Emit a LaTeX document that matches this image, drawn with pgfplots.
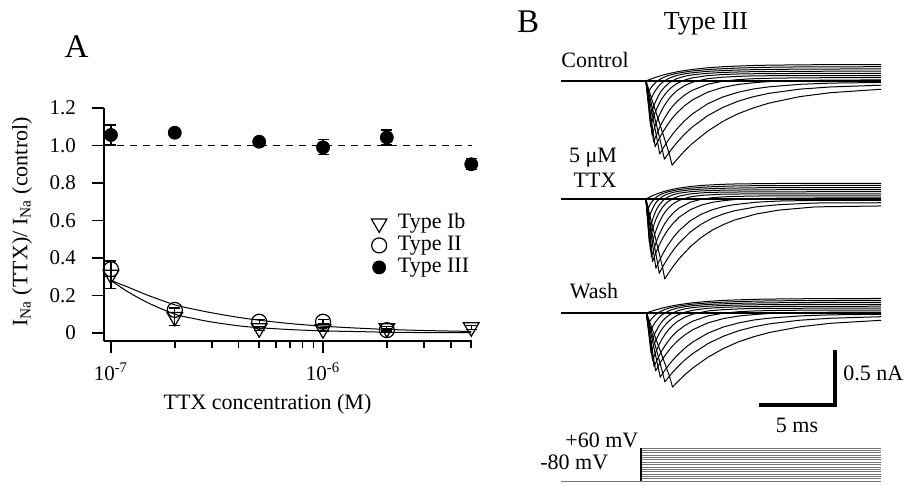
\documentclass[border=0pt]{standalone}
\usepackage{fontspec}
\setmainfont{Liberation Serif}
\usepackage{pgfplots}
\pgfplotsset{compat=1.18}
\usepackage{pgfplotstable}

% ---------- Panel A data ----------
\pgfplotstableread{
x y e
1e-7 1.056 0.053
2e-7 1.068 0.012
5e-7 1.020 0.010
1e-6 0.990 0.040
2e-6 1.043 0.040
5e-6 0.900 0.030
}\typeIII
\pgfplotstableread{
x y e
1e-7 0.340 0.040
2e-7 0.123 0.012
5e-7 0.060 0.010
1e-6 0.060 0.010
2e-6 0.015 0.010
}\typeII
\pgfplotstableread{
x y e
1e-7 0.310 0.075
2e-7 0.085 0.045
5e-7 0.025 0.010
1e-6 0.020 0.010
2e-6 0.025 0.010
5e-6 0.030 0.010
}\typeIb
\pgfplotstableread{
x y
1e-7 0.280
1.2e-7 0.245
1.5e-7 0.200
2e-7 0.150
2.5e-7 0.125
3e-7 0.107
4e-7 0.083
5e-7 0.068
7e-7 0.050
1e-6 0.036
1.5e-6 0.025
2e-6 0.019
3e-6 0.013
5e-6 0.008
}\fitII
\pgfplotstableread{
x y
1e-7 0.280
1.2e-7 0.220
1.5e-7 0.160
2e-7 0.100
2.5e-7 0.075
3e-7 0.058
4e-7 0.038
5e-7 0.028
7e-7 0.018
1e-6 0.011
1.5e-6 0.007
2e-6 0.004
3e-6 0.002
5e-6 0.001
}\fitIb

% ---------- Panel B data: current traces (s = ms after step, nA) ----------
\pgfplotstableread{
s T1 T2 T3 T4 T5 T6 T7 T8 T9 T10 T11
0 0 0 0 0 0 0 0 0 0 0 0
0.1 -0.045 -0.106 -0.106 -0.137 -0.123 -0.111 -0.100 -0.073 -0.058 -0.044 0.006
0.2 -0.090 -0.212 -0.213 -0.275 -0.246 -0.222 -0.200 -0.147 -0.117 -0.087 0.012
0.3 -0.067 -0.174 -0.320 -0.412 -0.369 -0.333 -0.300 -0.220 -0.175 -0.131 0.017
0.4 -0.048 -0.142 -0.273 -0.366 -0.493 -0.444 -0.400 -0.293 -0.233 -0.174 0.022
0.5 -0.031 -0.114 -0.232 -0.323 -0.448 -0.555 -0.500 -0.367 -0.292 -0.218 0.027
0.6 -0.017 -0.090 -0.196 -0.286 -0.406 -0.518 -0.598 -0.440 -0.350 -0.261 0.032
0.8 0.006 -0.051 -0.137 -0.222 -0.334 -0.451 -0.540 -0.587 -0.467 -0.348 0.041
0.9 0.014 -0.035 -0.113 -0.194 -0.303 -0.420 -0.514 -0.663 -0.525 -0.392 0.045
1.0 0.023 -0.022 -0.091 -0.170 -0.273 -0.391 -0.488 -0.638 -0.583 -0.435 0.050
1.2 0.036 0.000 -0.057 -0.128 -0.223 -0.340 -0.441 -0.592 -0.711 -0.522 0.057
1.5 0.052 0.025 -0.018 -0.079 -0.161 -0.273 -0.378 -0.529 -0.651 -0.653 0.068
1.7 0.059 0.036 -0.001 -0.054 -0.129 -0.236 -0.341 -0.490 -0.614 -0.765 0.074
2.0 0.069 0.050 0.021 -0.024 -0.089 -0.189 -0.292 -0.438 -0.562 -0.715 0.083
2.5 0.081 0.065 0.043 0.008 -0.042 -0.129 -0.226 -0.363 -0.485 -0.638 0.095
3 0.091 0.075 0.056 0.028 -0.012 -0.085 -0.174 -0.301 -0.420 -0.570 0.105
4 0.104 0.088 0.070 0.049 0.021 -0.030 -0.102 -0.208 -0.316 -0.457 0.120
5 0.112 0.095 0.078 0.059 0.035 -0.002 -0.058 -0.145 -0.240 -0.367 0.130
6 0.118 0.100 0.082 0.064 0.042 0.013 -0.031 -0.102 -0.183 -0.297 0.136
7 0.122 0.103 0.085 0.066 0.047 0.021 -0.016 -0.072 -0.142 -0.244 0.141
8 0.125 0.105 0.086 0.067 0.048 0.025 -0.005 -0.053 -0.112 -0.201 0.144
10 0.128 0.108 0.088 0.069 0.049 0.029 0.005 -0.030 -0.074 -0.142 0.147
12 0.129 0.109 0.089 0.069 0.050 0.030 0.008 -0.019 -0.054 -0.106 0.149
15.28 0.130 0.110 0.090 0.070 0.050 0.030 0.010 -0.013 -0.038 -0.075 0.150
22 0.130 0.110 0.090 0.070 0.050 0.030 0.010 -0.012 -0.035 -0.065 0.150
}\traces

\begin{document}
\begin{tikzpicture}
\useasboundingbox (0,0) rectangle (454.5pt,242pt);

% ================= Panel A =================
\begin{axis}[
  at={(52pt,71.5pt)}, anchor=south west,
  scale only axis, width=184pt, height=116.5pt,
  xmode=log, xmin=9.27e-8, xmax=5.04e-6,
  ymin=-0.043, ymax=1.2,
  axis x line*=bottom, axis y line*=left,
  axis line style={-, line width=0.8pt},
  tick align=outside, major tick length=6pt, minor tick length=3.5pt,
  tick style={black, line width=0.8pt},
  xtick={1e-7,1e-6},
  xticklabels={10\textsuperscript{-7},10\textsuperscript{-6}},
  minor xtick={2e-7,3e-7,4e-7,5e-7,6e-7,7e-7,8e-7,9e-7,2e-6,3e-6,4e-6,5e-6},
  ytick={0,0.2,0.4,0.6,0.8,1.0,1.2},
  yticklabels={0,0.2,0.4,0.6,0.8,1.0,1.2},
  tick label style={font=\fontsize{10.5}{12}\selectfont},
  yticklabel style={xshift=-4.5pt},
  xticklabel style={yshift=-1.5pt},
  clip=false,
  legend style={at={(0.7255,0.5536)}, anchor=north west, draw=none, fill=none,
    inner sep=0pt, row sep=0pt, column sep=5pt,
    nodes={inner sep=0.5pt, text height=7.5pt, text depth=2.5pt},
    font=\fontsize{11}{13}\selectfont},
  legend cell align=left,
  legend image code/.code={\draw[#1] plot coordinates {(0pt,0pt)};},
]
\addplot[black, dashed, line width=0.8pt, dash pattern=on 3.5pt off 3pt, forget plot]
  coordinates {(9.27e-8,1) (5.04e-6,1)};
\addplot[black, line width=0.5pt, smooth, forget plot] table[x=x,y=y]{\fitII};
\addplot[black, line width=0.5pt, smooth, forget plot] table[x=x,y=y]{\fitIb};

\addplot[black, only marks, mark=triangle, mark size=4.5pt,
  mark options={rotate=180, line width=0.6pt, fill=none},
  error bars/.cd, y dir=both, y explicit,
  error bar style={line width=0.6pt},
  error mark options={rotate=90, mark size=2.75pt, line width=0.6pt}]
  table[x=x,y=y,y error=e]{\typeIb};
\addlegendentry{Type Ib}
\addplot[black, only marks, mark=o, mark size=3.75pt,
  mark options={line width=0.6pt},
  error bars/.cd, y dir=both, y explicit,
  error bar style={line width=0.6pt},
  error mark options={rotate=90, mark size=2.75pt, line width=0.6pt}]
  table[x=x,y=y,y error=e]{\typeII};
\addlegendentry{Type II}
\addplot[black, only marks, mark=*, mark size=3.25pt,
  error bars/.cd, y dir=both, y explicit,
  error bar style={line width=0.6pt},
  error mark options={rotate=90, mark size=2.75pt, line width=0.6pt}]
  table[x=x,y=y,y error=e]{\typeIII};
\addlegendentry{Type III}
\end{axis}

\node[font=\fontsize{11}{13}\selectfont, inner sep=0pt] at (133.75pt,40pt) {TTX concentration (M)};
\node[font=\fontsize{11}{13}\selectfont, inner sep=0pt, rotate=90] at (11pt,131pt)
  {I\textsubscript{Na} (TTX)/ I\textsubscript{Na} (control)};
\node[font=\fontsize{16.5}{18}\selectfont, inner sep=0pt] at (38.25pt,218.75pt) {A};

% ================= Panel B: currents =================
\begin{axis}[
  at={(280.5pt,36.5pt)}, anchor=south west,
  scale only axis, width=160pt, height=184.25pt,
  xmin=0, xmax=20.8, ymin=-3.0, ymax=0.35,
  hide axis, clip mode=individual,
]
% baselines before the step
\addplot[black, line width=1.3pt] coordinates {(0,0) (5.52,0)};
\addplot[black, line width=1.3pt] coordinates {(0,-1.073) (5.52,-1.073)};
\addplot[black, line width=1.3pt] coordinates {(0,-2.109) (5.52,-2.109)};
\addplot[black, line width=0.9pt] coordinates {(5.52,0) (20.8,0)};
\addplot[black, line width=0.9pt] coordinates {(5.52,-1.073) (20.8,-1.073)};
\addplot[black, line width=0.9pt] coordinates {(5.52,-2.109) (20.8,-2.109)};
% control
\pgfplotsinvokeforeach{T1,T2,T3,T4,T5,T6,T7,T8,T9,T10,T11}{
  \addplot[black, line width=0.5pt, line join=round]
    table[x expr=5.52+\thisrow{s}, y expr=\thisrow{#1}]{\traces};
}
% 5 uM TTX
\pgfplotsinvokeforeach{T1,T2,T3,T4,T5,T6,T7,T8,T9,T10,T11}{
  \addplot[black, line width=0.5pt, line join=round]
    table[x expr=5.52+0.72*\thisrow{s}, y expr=-1.073+0.95*\thisrow{#1}]{\traces};
}
% wash
\pgfplotsinvokeforeach{T1,T2,T3,T4,T5,T6,T7,T8,T9,T10,T11}{
  \addplot[black, line width=0.5pt, line join=round]
    table[x expr=5.55+\thisrow{s}, y expr=-2.109+0.88*\thisrow{#1}]{\traces};
}
% scale bar 5 ms / 0.5 nA
\addplot[black, line width=2pt, line join=miter] coordinates {(12.86,-2.945) (17.82,-2.945) (17.82,-2.445)};
\end{axis}

% ================= Panel B: voltage protocol =================
\begin{axis}[
  at={(280.5pt,1.5pt)}, anchor=south west,
  scale only axis, width=160pt, height=16.5pt,
  xmin=0, xmax=20.8, ymin=-80, ymax=60,
  hide axis, clip=false,
]
\pgfplotsinvokeforeach{-70,-60,-50,-40,-30,-20,-10,0,10,20,30,40,50,60}{
  \addplot[black!55, line width=0.35pt] coordinates {(5.2,#1) (20.8,#1)};
}
\addplot[black!55, line width=0.5pt] coordinates {(0,-80) (20.8,-80)};
\addplot[black, line width=0.8pt] coordinates {(5.2,-80) (5.2,60)};
\end{axis}

% Panel B text
\node[font=\fontsize{16.5}{18}\selectfont, inner sep=0pt] at (264pt,231pt) {B};
\node[font=\fontsize{13}{15}\selectfont, inner sep=0pt] at (353pt,230pt) {Type III};
\node[font=\fontsize{11}{13}\selectfont, inner sep=0pt, anchor=west] at (280.5pt,212pt) {Control};
\node[font=\fontsize{11}{13}\selectfont, inner sep=0pt] at (296.5pt,163pt) {5 μM};
\node[font=\fontsize{11}{13}\selectfont, inner sep=0pt] at (297.5pt,152pt) {TTX};
\node[font=\fontsize{11}{13}\selectfont, inner sep=0pt] at (297pt,96.5pt) {Wash};
\node[font=\fontsize{11}{13}\selectfont, inner sep=0pt, anchor=west] at (421.5pt,55.5pt) {0.5 nA};
\node[font=\fontsize{11}{13}\selectfont, inner sep=0pt] at (398.5pt,29.5pt) {5 ms};
\node[font=\fontsize{11}{13}\selectfont, inner sep=0pt, anchor=west] at (282.5pt,22pt) {+60 mV};
\node[font=\fontsize{11}{13}\selectfont, inner sep=0pt, anchor=west] at (270pt,11pt) {-80 mV};
\end{tikzpicture}
\end{document}
